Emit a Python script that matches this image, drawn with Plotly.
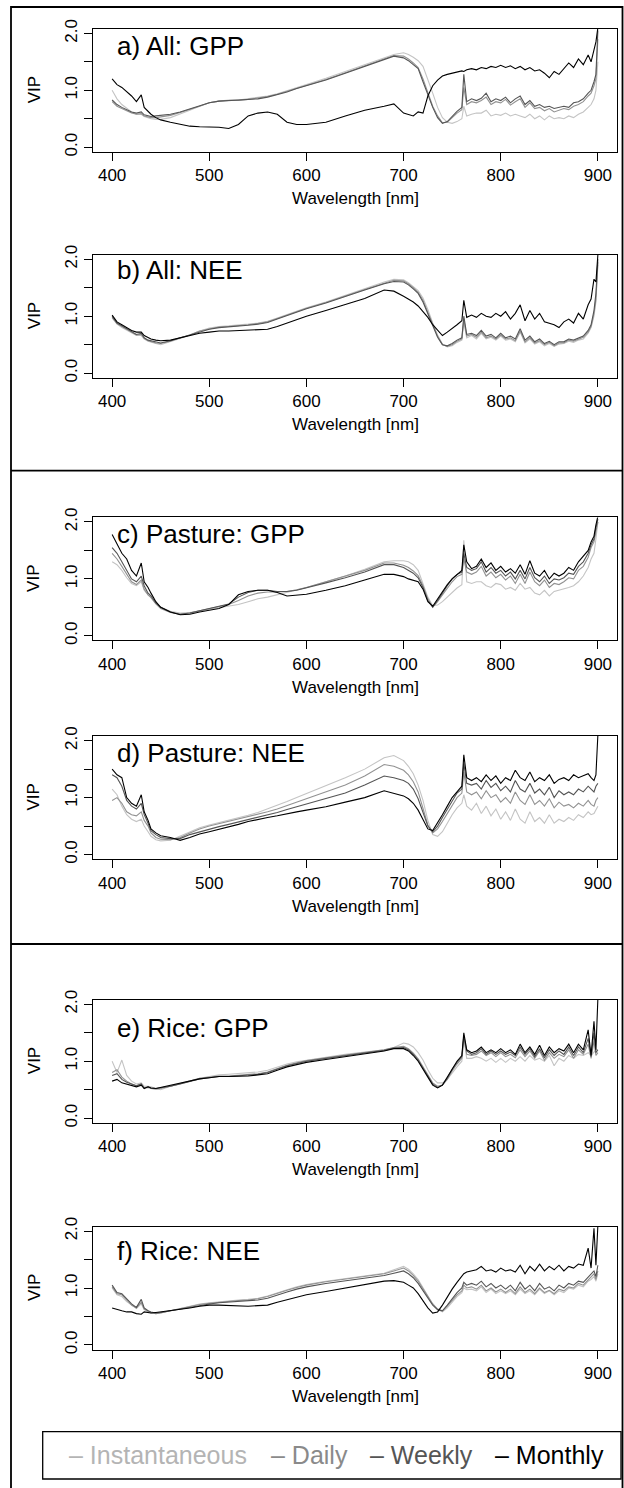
import plotly.graph_objects as go

# ---------------- data ----------------
WL = [400, 405, 410, 415, 420, 425, 430, 433, 437, 440,
      445, 450, 460, 470, 480, 490, 500, 510, 520, 530,
      540, 550, 560, 570, 580, 590, 600, 620, 640, 660,
      680, 690, 700, 705, 710, 715, 720, 725, 730, 735,
      740, 745, 750, 755, 760, 762, 765, 770, 775, 780,
      785, 790, 795, 800, 805, 810, 815, 820, 825, 830,
      835, 840, 845, 850, 855, 860, 865, 870, 875, 880,
      885, 890, 893, 896, 898, 900]

SERIES = ["Instantaneous", "Daily", "Weekly", "Monthly"]
COLORS = ["#c4c4c4", "#929292", "#555555", "#000000"]
TEXT_COLORS = ["#b4b4b4", "#8a8a8a", "#555555", "#000000"]
PANEL_TITLES = ["a) All: GPP", "b) All: NEE", "c) Pasture: GPP",
                "d) Pasture: NEE", "e) Rice: GPP", "f) Rice: NEE"]
X_TICKS = [400, 500, 600, 700, 800, 900]
Y_TICKS = [0, 0.5, 1, 1.5, 2]
Y_TICK_TEXT = ["0.0", "", "1.0", "", "2.0"]

a_inst = [1.00, 0.85, 0.75, 0.68, 0.62, 0.58, 0.58, 0.54, 0.52, 0.50,
          0.49, 0.49, 0.52, 0.58, 0.65, 0.72, 0.78, 0.81, 0.83, 0.83,
          0.85, 0.87, 0.90, 0.94, 0.99, 1.05, 1.10, 1.21, 1.33, 1.45,
          1.58, 1.63, 1.66, 1.63, 1.58, 1.52, 1.42, 1.20, 0.95, 0.70,
          0.52, 0.44, 0.42, 0.45, 0.50, 0.72, 0.55, 0.58, 0.60, 0.60,
          0.65, 0.55, 0.58, 0.56, 0.60, 0.55, 0.58, 0.55, 0.52, 0.58,
          0.50, 0.55, 0.48, 0.55, 0.50, 0.52, 0.50, 0.55, 0.52, 0.58,
          0.62, 0.70, 0.75, 0.85, 1.00, 1.50]
a_daily = [0.80, 0.72, 0.68, 0.64, 0.60, 0.58, 0.59, 0.55, 0.53, 0.52,
           0.52, 0.53, 0.56, 0.61, 0.66, 0.72, 0.78, 0.81, 0.82, 0.82,
           0.84, 0.86, 0.89, 0.93, 0.98, 1.04, 1.09, 1.19, 1.31, 1.43,
           1.56, 1.61, 1.60, 1.55, 1.48, 1.40, 1.20, 0.95, 0.72, 0.55,
           0.43, 0.44, 0.52, 0.60, 0.66, 1.05, 0.75, 0.80, 0.78, 0.82,
           0.88, 0.75, 0.80, 0.78, 0.84, 0.74, 0.80, 0.85, 0.70, 0.78,
           0.68, 0.70, 0.64, 0.68, 0.62, 0.65, 0.68, 0.66, 0.72, 0.75,
           0.80, 0.90, 0.95, 1.08, 1.20, 1.90]
a_weekly = [0.83, 0.75, 0.70, 0.66, 0.62, 0.60, 0.62, 0.57, 0.55, 0.54,
            0.55, 0.56, 0.58, 0.62, 0.67, 0.73, 0.78, 0.81, 0.82, 0.82,
            0.83, 0.85, 0.88, 0.92, 0.97, 1.03, 1.08, 1.18, 1.30, 1.42,
            1.55, 1.60, 1.57, 1.52, 1.45, 1.38, 1.15, 0.92, 0.70, 0.52,
            0.42, 0.45, 0.55, 0.63, 0.70, 1.28, 0.80, 0.85, 0.82, 0.86,
            0.95, 0.80, 0.85, 0.82, 0.88, 0.78, 0.85, 0.90, 0.75, 0.82,
            0.72, 0.75, 0.70, 0.72, 0.68, 0.70, 0.72, 0.70, 0.78, 0.80,
            0.85, 0.95, 1.00, 1.15, 1.28, 2.05]
a_monthly = [1.20, 1.10, 1.05, 0.98, 0.90, 0.80, 0.92, 0.70, 0.62, 0.58,
             0.52, 0.48, 0.44, 0.40, 0.37, 0.36, 0.36, 0.35, 0.33, 0.40,
             0.55, 0.60, 0.62, 0.58, 0.44, 0.40, 0.40, 0.44, 0.55, 0.65,
             0.72, 0.76, 0.60, 0.57, 0.55, 0.62, 0.60, 0.90, 1.08, 1.18,
             1.25, 1.28, 1.30, 1.32, 1.34, 1.33, 1.36, 1.38, 1.36, 1.40,
             1.38, 1.42, 1.40, 1.44, 1.40, 1.43, 1.38, 1.42, 1.36, 1.40,
             1.34, 1.36, 1.30, 1.22, 1.33, 1.28, 1.38, 1.48, 1.40, 1.55,
             1.45, 1.62, 1.50, 1.72, 1.85, 2.10]

b_inst = [0.97, 0.86, 0.80, 0.75, 0.70, 0.66, 0.66, 0.60, 0.56, 0.54,
          0.52, 0.50, 0.55, 0.61, 0.67, 0.74, 0.79, 0.82, 0.83, 0.84,
          0.86, 0.88, 0.91, 0.97, 1.03, 1.09, 1.15, 1.25, 1.37, 1.48,
          1.60, 1.65, 1.64, 1.59, 1.52, 1.45, 1.32, 1.12, 0.88, 0.67,
          0.51, 0.46, 0.48, 0.54, 0.58, 0.90, 0.62, 0.66, 0.60, 0.70,
          0.60, 0.63, 0.58, 0.65, 0.58, 0.60, 0.55, 0.72, 0.53, 0.60,
          0.51, 0.55, 0.48, 0.52, 0.47, 0.51, 0.52, 0.56, 0.54, 0.58,
          0.60, 0.70, 0.80, 1.00, 1.25, 1.90]
b_daily = [0.98, 0.87, 0.82, 0.77, 0.71, 0.67, 0.68, 0.61, 0.57, 0.55,
           0.53, 0.52, 0.56, 0.62, 0.67, 0.74, 0.78, 0.81, 0.82, 0.83,
           0.85, 0.87, 0.90, 0.96, 1.02, 1.08, 1.14, 1.24, 1.36, 1.47,
           1.58, 1.63, 1.62, 1.57, 1.50, 1.42, 1.28, 1.08, 0.85, 0.65,
           0.50, 0.47, 0.50, 0.56, 0.60, 0.95, 0.65, 0.68, 0.63, 0.72,
           0.62, 0.65, 0.60, 0.67, 0.60, 0.62, 0.57, 0.74, 0.55, 0.62,
           0.53, 0.57, 0.50, 0.54, 0.48, 0.53, 0.53, 0.58, 0.56, 0.60,
           0.63, 0.72, 0.82, 1.05, 1.30, 1.95]
b_weekly = [1.00, 0.88, 0.83, 0.78, 0.72, 0.68, 0.70, 0.62, 0.58, 0.57,
            0.55, 0.53, 0.57, 0.62, 0.67, 0.73, 0.77, 0.80, 0.81, 0.82,
            0.84, 0.86, 0.89, 0.95, 1.01, 1.07, 1.13, 1.23, 1.35, 1.46,
            1.57, 1.61, 1.60, 1.55, 1.48, 1.40, 1.25, 1.05, 0.82, 0.63,
            0.50, 0.48, 0.52, 0.58, 0.62, 1.00, 0.68, 0.70, 0.66, 0.75,
            0.65, 0.68, 0.62, 0.70, 0.62, 0.65, 0.60, 0.78, 0.58, 0.65,
            0.55, 0.60, 0.52, 0.56, 0.50, 0.55, 0.55, 0.60, 0.58, 0.62,
            0.65, 0.75, 0.85, 1.10, 1.40, 2.00]
b_monthly = [1.02, 0.90, 0.85, 0.80, 0.75, 0.72, 0.72, 0.66, 0.62, 0.60,
             0.58, 0.57, 0.58, 0.62, 0.66, 0.70, 0.72, 0.74, 0.74, 0.75,
             0.75, 0.76, 0.77, 0.82, 0.88, 0.94, 1.00, 1.10, 1.20, 1.31,
             1.46, 1.44, 1.35, 1.30, 1.25, 1.18, 1.08, 0.98, 0.85, 0.75,
             0.66, 0.72, 0.78, 0.85, 0.92, 1.28, 0.98, 1.02, 0.98, 1.05,
             1.00, 0.98, 1.05, 1.00, 1.08, 0.95, 1.05, 1.20, 0.92, 1.10,
             0.95, 1.05, 0.90, 0.88, 0.85, 0.80, 0.90, 0.95, 0.88, 1.05,
             0.95, 1.20, 1.30, 1.65, 1.60, 2.08]

c_inst = [1.30, 1.25, 1.15, 1.02, 0.92, 0.88, 0.95, 0.80, 0.72, 0.68,
          0.58, 0.50, 0.43, 0.40, 0.41, 0.44, 0.47, 0.50, 0.52, 0.55,
          0.60, 0.65, 0.68, 0.72, 0.76, 0.80, 0.85, 0.95, 1.05, 1.17,
          1.30, 1.32, 1.32, 1.30, 1.25, 1.15, 0.92, 0.68, 0.53, 0.54,
          0.60, 0.68, 0.76, 0.84, 0.90, 1.68, 0.95, 0.92, 0.95, 0.95,
          0.88, 0.85, 0.92, 0.90, 0.82, 0.85, 0.80, 0.92, 0.82, 0.85,
          0.75, 0.72, 0.80, 0.70, 0.78, 0.80, 0.82, 0.85, 0.88, 0.95,
          1.05, 1.20, 1.35, 1.45, 1.70, 2.00]
c_daily = [1.45, 1.35, 1.22, 1.08, 0.95, 0.90, 0.98, 0.82, 0.72, 0.67,
           0.56, 0.48, 0.41, 0.38, 0.40, 0.44, 0.48, 0.52, 0.55, 0.62,
           0.70, 0.75, 0.77, 0.77, 0.78, 0.81, 0.85, 0.95, 1.05, 1.15,
           1.28, 1.28, 1.24, 1.20, 1.14, 1.06, 0.88, 0.65, 0.51, 0.60,
           0.72, 0.84, 0.95, 1.04, 1.08, 1.35, 1.12, 1.08, 1.12, 1.22,
           1.05, 1.12, 1.02, 1.08, 0.98, 1.05, 0.92, 1.08, 0.92, 1.12,
           0.95, 0.88, 0.98, 0.85, 0.92, 0.90, 0.95, 1.02, 1.00, 1.15,
           1.22, 1.38, 1.55, 1.65, 1.85, 2.00]
c_weekly = [1.55, 1.45, 1.30, 1.15, 1.00, 0.95, 1.05, 0.88, 0.75, 0.70,
            0.58, 0.50, 0.42, 0.38, 0.40, 0.44, 0.48, 0.52, 0.56, 0.68,
            0.76, 0.80, 0.80, 0.78, 0.78, 0.80, 0.84, 0.93, 1.02, 1.12,
            1.25, 1.25, 1.20, 1.15, 1.10, 1.02, 0.85, 0.62, 0.50, 0.62,
            0.76, 0.88, 1.00, 1.08, 1.12, 1.45, 1.20, 1.15, 1.18, 1.30,
            1.12, 1.20, 1.10, 1.15, 1.05, 1.12, 1.00, 1.15, 1.00, 1.20,
            1.02, 0.95, 1.05, 0.92, 1.00, 0.98, 1.02, 1.10, 1.08, 1.22,
            1.30, 1.45, 1.60, 1.70, 1.90, 2.05]
c_monthly = [1.78, 1.62, 1.45, 1.35, 1.15, 1.05, 1.28, 0.95, 0.85, 0.75,
             0.60, 0.50, 0.42, 0.37, 0.38, 0.42, 0.45, 0.48, 0.55, 0.72,
             0.78, 0.80, 0.80, 0.76, 0.70, 0.72, 0.73, 0.80, 0.88, 0.98,
             1.08, 1.08, 1.04, 1.00, 0.98, 0.95, 0.82, 0.60, 0.52, 0.65,
             0.78, 0.90, 1.00, 1.08, 1.15, 1.60, 1.30, 1.18, 1.22, 1.35,
             1.20, 1.28, 1.15, 1.22, 1.12, 1.18, 1.10, 1.25, 1.08, 1.32,
             1.10, 1.05, 1.15, 1.00, 1.10, 1.05, 1.10, 1.20, 1.15, 1.30,
             1.40, 1.50, 1.65, 1.75, 1.95, 2.10]

d_inst = [1.15, 1.05, 0.85, 0.70, 0.62, 0.58, 0.62, 0.50, 0.40, 0.32,
          0.26, 0.24, 0.25, 0.32, 0.40, 0.47, 0.52, 0.56, 0.60, 0.64,
          0.69, 0.74, 0.80, 0.86, 0.93, 1.00, 1.07, 1.20, 1.35, 1.50,
          1.70, 1.74, 1.65, 1.55, 1.42, 1.22, 0.95, 0.60, 0.35, 0.32,
          0.40, 0.55, 0.70, 0.82, 0.90, 1.05, 0.85, 0.78, 0.90, 0.72,
          0.85, 0.68, 0.80, 0.62, 0.75, 0.60, 0.80, 0.62, 0.55, 0.75,
          0.58, 0.65, 0.55, 0.70, 0.55, 0.62, 0.58, 0.65, 0.60, 0.70,
          0.65, 0.75, 0.70, 0.72, 0.80, 0.85]
d_daily = [0.95, 1.00, 0.90, 0.75, 0.70, 0.68, 0.75, 0.60, 0.50, 0.38,
           0.30, 0.27, 0.26, 0.30, 0.38, 0.45, 0.50, 0.54, 0.58, 0.62,
           0.66, 0.70, 0.75, 0.80, 0.86, 0.92, 0.98, 1.10, 1.22, 1.38,
           1.58, 1.55, 1.48, 1.40, 1.28, 1.10, 0.82, 0.52, 0.38, 0.45,
           0.58, 0.72, 0.88, 1.00, 1.08, 1.45, 1.10, 1.05, 1.10, 0.98,
           1.12, 1.00, 1.05, 0.92, 1.00, 0.90, 1.10, 0.95, 0.88, 1.05,
           0.88, 0.95, 0.85, 0.98, 0.82, 0.92, 0.85, 0.88, 0.82, 0.90,
           0.85, 0.95, 0.88, 0.85, 0.95, 1.00]
d_weekly = [1.40, 1.35, 1.20, 0.95, 0.85, 0.80, 0.90, 0.70, 0.55, 0.42,
            0.35, 0.30, 0.28, 0.28, 0.35, 0.40, 0.45, 0.49, 0.53, 0.57,
            0.62, 0.66, 0.70, 0.74, 0.79, 0.84, 0.89, 0.98, 1.08, 1.22,
            1.38, 1.35, 1.30, 1.25, 1.15, 0.98, 0.75, 0.50, 0.40, 0.50,
            0.65, 0.80, 0.95, 1.08, 1.15, 1.60, 1.25, 1.22, 1.25, 1.15,
            1.30, 1.18, 1.25, 1.12, 1.20, 1.10, 1.30, 1.15, 1.10, 1.25,
            1.08, 1.15, 1.05, 1.18, 1.00, 1.12, 1.05, 1.10, 1.05, 1.15,
            1.10, 1.20, 1.15, 1.10, 1.20, 1.25]
d_monthly = [1.50, 1.40, 1.35, 1.00, 0.90, 0.85, 1.05, 0.75, 0.60, 0.45,
             0.38, 0.33, 0.30, 0.25, 0.30, 0.36, 0.40, 0.44, 0.48, 0.53,
             0.58, 0.62, 0.65, 0.68, 0.72, 0.75, 0.78, 0.84, 0.92, 1.00,
             1.12, 1.08, 1.03, 0.98, 0.90, 0.78, 0.60, 0.45, 0.42, 0.55,
             0.70, 0.85, 1.00, 1.10, 1.20, 1.75, 1.35, 1.30, 1.35, 1.28,
             1.40, 1.30, 1.38, 1.25, 1.35, 1.30, 1.48, 1.35, 1.30, 1.45,
             1.28, 1.35, 1.30, 1.40, 1.25, 1.32, 1.35, 1.30, 1.40, 1.35,
             1.38, 1.42, 1.35, 1.30, 1.40, 2.10]

e_inst = [1.00, 0.80, 1.02, 0.75, 0.65, 0.60, 0.62, 0.56, 0.56, 0.55,
          0.52, 0.50, 0.56, 0.60, 0.65, 0.70, 0.73, 0.76, 0.77, 0.78,
          0.79, 0.81, 0.84, 0.90, 0.95, 0.99, 1.02, 1.07, 1.12, 1.16,
          1.20, 1.24, 1.32, 1.30, 1.25, 1.15, 1.02, 0.85, 0.70, 0.62,
          0.62, 0.68, 0.78, 0.90, 1.00, 1.40, 1.05, 1.05, 1.08, 1.05,
          1.00, 1.05, 0.98, 1.05, 0.98, 1.05, 1.00, 1.08, 1.00, 1.10,
          1.02, 1.05, 1.00, 1.10, 0.92, 1.05, 1.00, 1.10, 1.05, 1.12,
          1.10, 1.15, 1.10, 1.15, 1.20, 1.20]
e_daily = [0.80, 0.85, 0.72, 0.65, 0.60, 0.57, 0.60, 0.53, 0.54, 0.52,
           0.51, 0.52, 0.56, 0.60, 0.65, 0.70, 0.72, 0.74, 0.74, 0.75,
           0.76, 0.78, 0.81, 0.87, 0.93, 0.97, 1.01, 1.06, 1.11, 1.15,
           1.20, 1.24, 1.26, 1.22, 1.14, 1.04, 0.90, 0.76, 0.62, 0.56,
           0.58, 0.68, 0.83, 0.95, 1.05, 1.42, 1.12, 1.10, 1.12, 1.18,
           1.10, 1.15, 1.08, 1.15, 1.08, 1.12, 1.06, 1.20, 1.08, 1.18,
           1.05, 1.18, 1.02, 1.15, 1.05, 1.12, 1.08, 1.20, 1.05, 1.20,
           1.12, 1.30, 1.05, 1.35, 1.10, 1.15]
e_weekly = [0.75, 0.78, 0.68, 0.63, 0.60, 0.57, 0.60, 0.53, 0.55, 0.53,
            0.52, 0.53, 0.56, 0.60, 0.65, 0.69, 0.71, 0.73, 0.73, 0.74,
            0.75, 0.77, 0.80, 0.86, 0.92, 0.96, 1.00, 1.05, 1.10, 1.14,
            1.19, 1.23, 1.24, 1.20, 1.12, 1.02, 0.88, 0.74, 0.60, 0.54,
            0.58, 0.70, 0.86, 0.98, 1.08, 1.45, 1.18, 1.12, 1.15, 1.22,
            1.12, 1.18, 1.12, 1.18, 1.12, 1.16, 1.10, 1.25, 1.12, 1.22,
            1.08, 1.22, 1.06, 1.20, 1.10, 1.18, 1.12, 1.25, 1.10, 1.25,
            1.15, 1.40, 1.08, 1.50, 1.15, 1.20]
e_monthly = [0.65, 0.68, 0.62, 0.60, 0.58, 0.55, 0.58, 0.52, 0.55, 0.53,
             0.52, 0.54, 0.57, 0.61, 0.65, 0.69, 0.71, 0.73, 0.73, 0.73,
             0.74, 0.76, 0.78, 0.84, 0.90, 0.94, 0.98, 1.03, 1.08, 1.13,
             1.18, 1.22, 1.22, 1.18, 1.10, 1.00, 0.85, 0.72, 0.58, 0.53,
             0.58, 0.72, 0.88, 1.00, 1.10, 1.50, 1.20, 1.15, 1.18, 1.25,
             1.15, 1.20, 1.15, 1.22, 1.15, 1.20, 1.12, 1.30, 1.15, 1.25,
             1.12, 1.28, 1.10, 1.25, 1.15, 1.22, 1.18, 1.30, 1.15, 1.30,
             1.20, 1.55, 1.10, 1.70, 1.20, 2.10]

f_inst = [1.00, 0.88, 0.85, 0.76, 0.70, 0.64, 0.72, 0.62, 0.58, 0.56,
          0.55, 0.56, 0.60, 0.64, 0.68, 0.72, 0.74, 0.76, 0.77, 0.79,
          0.80, 0.82, 0.86, 0.92, 0.97, 1.02, 1.06, 1.12, 1.17, 1.21,
          1.26, 1.32, 1.38, 1.33, 1.25, 1.15, 1.00, 0.85, 0.72, 0.62,
          0.58, 0.65, 0.75, 0.85, 0.92, 1.00, 0.97, 0.98, 0.95, 1.02,
          0.92, 0.98, 0.90, 0.95, 0.90, 0.95, 0.88, 0.98, 0.90, 0.95,
          0.88, 0.98, 0.90, 0.95, 0.88, 0.95, 0.92, 1.00, 0.98, 1.05,
          1.02, 1.12, 1.15, 1.20, 1.12, 1.25]
f_daily = [1.02, 0.90, 0.88, 0.78, 0.70, 0.65, 0.75, 0.63, 0.59, 0.57,
           0.55, 0.56, 0.60, 0.64, 0.67, 0.71, 0.73, 0.75, 0.76, 0.78,
           0.79, 0.81, 0.85, 0.91, 0.96, 1.01, 1.05, 1.11, 1.16, 1.20,
           1.25, 1.30, 1.35, 1.30, 1.22, 1.12, 0.98, 0.84, 0.72, 0.63,
           0.60, 0.68, 0.78, 0.88, 0.95, 1.05, 1.00, 1.02, 0.98, 1.05,
           0.95, 1.00, 0.93, 0.98, 0.92, 0.98, 0.90, 1.02, 0.92, 0.98,
           0.90, 1.00, 0.92, 0.96, 0.90, 0.98, 0.95, 1.02, 1.00, 1.08,
           1.05, 1.15, 1.20, 1.25, 1.15, 1.30]
f_weekly = [1.05, 0.92, 0.90, 0.80, 0.72, 0.66, 0.80, 0.65, 0.60, 0.58,
            0.56, 0.57, 0.60, 0.63, 0.66, 0.70, 0.72, 0.74, 0.75, 0.76,
            0.77, 0.79, 0.82, 0.88, 0.93, 0.98, 1.02, 1.08, 1.13, 1.17,
            1.22, 1.26, 1.30, 1.25, 1.18, 1.08, 0.95, 0.82, 0.70, 0.62,
            0.60, 0.70, 0.82, 0.92, 1.00, 1.10, 1.05, 1.08, 1.05, 1.12,
            1.02, 1.08, 1.00, 1.05, 0.98, 1.05, 0.95, 1.10, 0.98, 1.05,
            0.95, 1.08, 0.98, 1.02, 0.95, 1.05, 1.00, 1.08, 1.05, 1.12,
            1.10, 1.20, 1.25, 1.30, 1.20, 1.40]
f_monthly = [0.65, 0.62, 0.60, 0.58, 0.58, 0.55, 0.54, 0.58, 0.57, 0.56,
             0.57, 0.58, 0.60, 0.62, 0.65, 0.68, 0.70, 0.70, 0.69, 0.68,
             0.68, 0.69, 0.70, 0.75, 0.79, 0.84, 0.88, 0.94, 1.00, 1.06,
             1.12, 1.13, 1.10, 1.05, 1.00, 0.90, 0.78, 0.65, 0.56, 0.58,
             0.70, 0.85, 0.98, 1.10, 1.20, 1.25, 1.28, 1.30, 1.32, 1.38,
             1.30, 1.32, 1.28, 1.35, 1.30, 1.32, 1.28, 1.40, 1.25, 1.38,
             1.30, 1.42, 1.30, 1.38, 1.32, 1.40, 1.30, 1.38, 1.35, 1.42,
             1.40, 1.70, 1.35, 2.05, 1.40, 2.10]

PANELS = [
    [a_inst, a_daily, a_weekly, a_monthly],
    [b_inst, b_daily, b_weekly, b_monthly],
    [c_inst, c_daily, c_weekly, c_monthly],
    [d_inst, d_daily, d_weekly, d_monthly],
    [e_inst, e_daily, e_weekly, e_monthly],
    [f_inst, f_daily, f_weekly, f_monthly],
]

# ---------------- layout (page-pixel geometry) ----------------
W, H = 624, 1488
BOX_L, BOX_R = 92.7, 617.3
BOX_H = 123.0
BOX_TOPS = [28.8, 254.7, 517.4, 736.1, 999.7, 1226.5]
LABEL_DY = [17, 15, 17, 17, 28, 24]
FONT = "Liberation Sans, Arial, Helvetica, sans-serif"


def px(x):
    return x / W


def py(y):
    return 1 - y / H


fig = go.Figure()
layout = dict(
    template="none",
    width=W, height=H, autosize=False,
    margin=dict(l=0, r=0, t=0, b=0, pad=0, autoexpand=False),
    paper_bgcolor="white", plot_bgcolor="white",
    showlegend=False,
    font=dict(family=FONT, color="black", size=17),
)
annotations = []
shapes = []

for i, series_list in enumerate(PANELS):
    n = i + 1
    xa = "x" if n == 1 else f"x{n}"
    ya = "y" if n == 1 else f"y{n}"
    for name, vals, col in zip(SERIES, series_list, COLORS):
        fig.add_trace(go.Scatter(
            x=WL, y=vals, mode="lines", name=name,
            line=dict(color=col, width=1.1),
            xaxis=xa, yaxis=ya, hoverinfo="skip",
        ))
    top = BOX_TOPS[i]
    bot = top + BOX_H
    layout[f"xaxis{'' if n == 1 else n}"] = dict(
        domain=[px(BOX_L), px(BOX_R)], anchor=ya, automargin=False,
        range=[380, 920], tickvals=X_TICKS,
        ticks="outside", ticklen=8, tickwidth=1, tickcolor="black",
        showline=True, mirror=True, linecolor="black", linewidth=1,
        showgrid=False, zeroline=False,
        tickfont=dict(family=FONT, size=17, color="black"),
        ticklabelstandoff=0,
    )
    layout[f"yaxis{'' if n == 1 else n}"] = dict(
        domain=[py(bot), py(top)], anchor=xa, automargin=False,
        range=[-0.08, 2.08], tickvals=Y_TICKS, ticktext=Y_TICK_TEXT,
        tickangle=-90,
        ticks="outside", ticklen=8, tickwidth=1, tickcolor="black",
        showline=True, mirror=True, linecolor="black", linewidth=1,
        showgrid=False, zeroline=False,
        tickfont=dict(family=FONT, size=17, color="black"),
    )
    annotations.append(dict(
        text="Wavelength [nm]", xref="paper", yref="paper",
        x=px((BOX_L + BOX_R) / 2), y=py(bot + 47),
        xanchor="center", yanchor="middle", showarrow=False,
        font=dict(family=FONT, size=17, color="black"),
    ))
    annotations.append(dict(
        text="VIP", xref="paper", yref="paper",
        x=px(34), y=py(top + BOX_H / 2), textangle=-90,
        xanchor="center", yanchor="middle", showarrow=False,
        font=dict(family=FONT, size=17, color="black"),
    ))
    annotations.append(dict(
        text=PANEL_TITLES[i], xref="paper", yref="paper",
        x=px(115), y=py(top + LABEL_DY[i]),
        xanchor="left", yanchor="middle", showarrow=False,
        font=dict(family=FONT, size=26, color="black"),
    ))

# outer frame and separators
shapes.append(dict(type="rect", xref="paper", yref="paper",
                   x0=px(11), x1=px(622.5), y0=py(1510), y1=py(7),
                   line=dict(color="black", width=1.8)))
for ysep in [470.7, 944.0]:
    shapes.append(dict(type="line", xref="paper", yref="paper",
                       x0=px(11), x1=px(622.5), y0=py(ysep), y1=py(ysep),
                       line=dict(color="black", width=1.8)))

# legend box
shapes.append(dict(type="rect", xref="paper", yref="paper",
                   x0=px(42.7), x1=px(621), y0=py(1479), y1=py(1431.7),
                   line=dict(color="black", width=1.3)))
LEG_X = [67, 269, 368, 493]
for name, col, lx in zip(SERIES, TEXT_COLORS, LEG_X):
    annotations.append(dict(
        text="\u2013 " + name, xref="paper", yref="paper",
        x=px(lx), y=py(1455), xanchor="left", yanchor="middle",
        showarrow=False, font=dict(family=FONT, size=25, color=col),
    ))

layout["annotations"] = annotations
layout["shapes"] = shapes
fig.update_layout(**layout)
# remove the default 8px page margin so the figure fills the window exactly
fig.write_html(
    "out.html",
    config={"displayModeBar": False},
    post_script="document.body.style.margin='0';"
                "document.body.style.overflow='hidden';",
)
